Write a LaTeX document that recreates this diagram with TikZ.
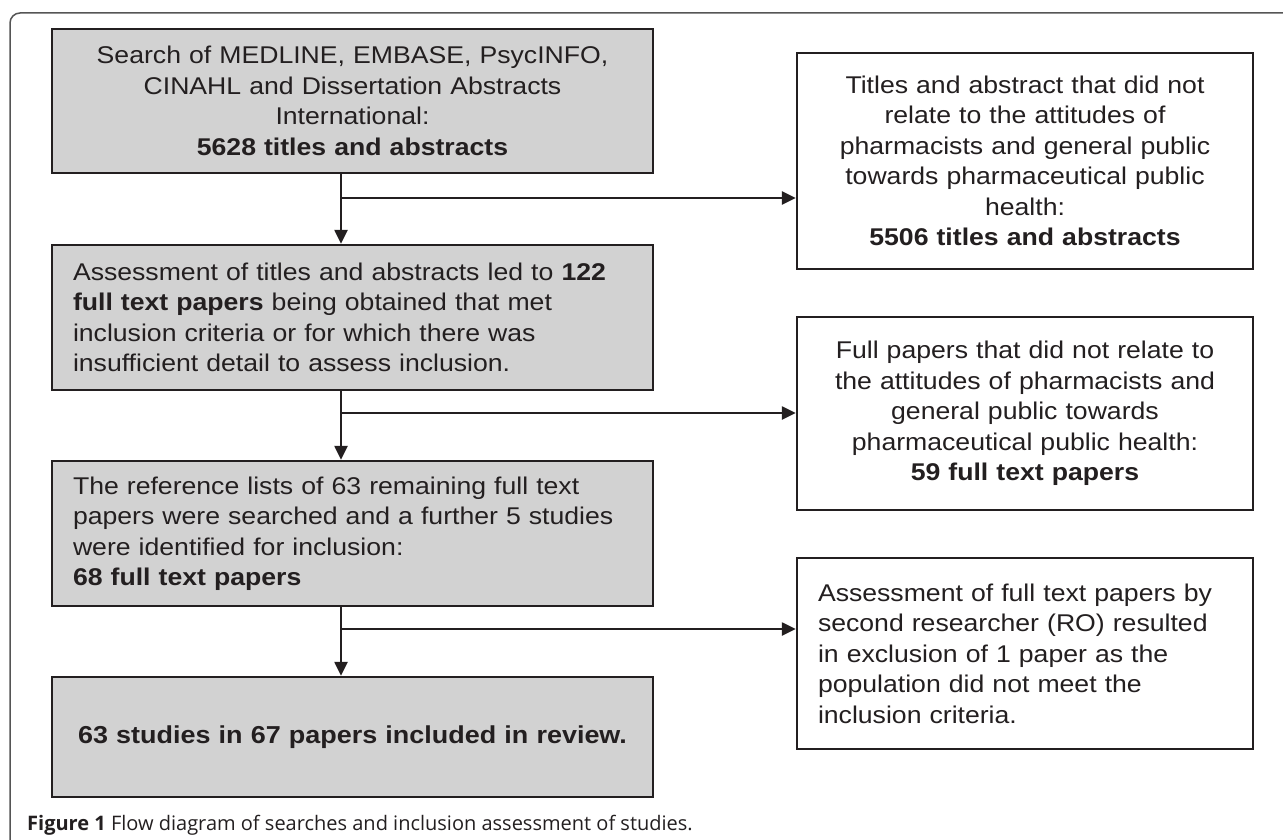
\documentclass[tikz,border=0pt]{standalone}
\usepackage{fontspec}
\setmainfont[FakeStretch=1.1]{Liberation Sans}
\setsansfont{Open Sans}
\usetikzlibrary{arrows.meta}
\definecolor{FlowFill}{HTML}{D2D2D2}
\definecolor{FlowLine}{HTML}{231F20}
\definecolor{FrameLine}{HTML}{555555}

\begin{document}
\begin{tikzpicture}[
    x=1pt, y=-1pt,
    box/.style={rectangle, draw=FlowLine, line width=2.4pt, inner xsep=21pt, inner ysep=0pt,
        text=FlowLine, font=\fontsize{24.2}{30.5}\selectfont},
    greybox/.style={box, fill=FlowFill, minimum width=601pt, text width=559pt},
    whitebox/.style={box, fill=white, minimum width=456pt, text width=414pt},
    flow/.style={draw=FlowLine, line width=2.4pt, -{Triangle[length=14pt,width=13pt]}}
 ]
\def\spineX{341}
\useasboundingbox (0,0) rectangle (1283,840);

% outer frame
\draw[FrameLine, line width=1.5pt, rounded corners=10pt] (10,840) -- (10,13) -- (1283,13);

% main column
\node[greybox, align=center, minimum height=144pt] (search) at (352.5,101)
    {Search of MEDLINE, EMBASE, PsycINFO,\\ CINAHL and Dissertation Abstracts\\ International:\\ \textbf{5628 titles and abstracts}};
\node[greybox, align=left, minimum height=145pt] (assess) at (352.5,317.5)
    {Assessment of titles and abstracts led to \textbf{122}\\ \textbf{full text papers} being obtained that met\\ inclusion criteria or for which there was\\ insufficient detail to assess inclusion.};
\node[greybox, align=left, minimum height=145pt] (reflist) at (352.5,533.5)
    {The reference lists of 63 remaining full text\\ papers were searched and a further 5 studies\\ were identified for inclusion:\\ \textbf{68 full text papers}};
\node[greybox, align=center, minimum height=120pt, inner xsep=4pt, text width=593pt,
      font=\fontsize{24.5}{30}\selectfont\bfseries] (review) at (352.5,737)
    {63 studies in 67 papers included in review.};

% exclusions
\node[whitebox, align=center, minimum height=216pt] (exTitles) at (1025,161)
    {Titles and abstract that did not\\ relate to the attitudes of\\ pharmacists and general public\\ towards pharmaceutical public\\ health:\\ \textbf{5506 titles and abstracts}\\[6pt]};
\node[whitebox, align=center, minimum height=193pt] (exPapers) at (1025,413.5)
    {Full papers that did not relate to\\ the attitudes of pharmacists and\\ general public towards\\ pharmaceutical public health:\\ \textbf{59 full text papers}\\[12pt]};
\node[whitebox, align=left, minimum height=191pt] (exSecond) at (1025,653.5)
    {Assessment of full text papers by\\ second researcher (RO) resulted\\ in exclusion of 1 paper as the\\ population did not meet the\\ inclusion criteria.\\[10pt]};

% connectors
\coordinate (spine) at (\spineX,0);
\coordinate (j1) at (\spineX,198);
\coordinate (j2) at (\spineX,413);
\coordinate (j3) at (\spineX,629);
\draw[flow] (search.south -| spine) -- (assess.north -| spine);
\draw[flow] (assess.south -| spine) -- (reflist.north -| spine);
\draw[flow] (reflist.south -| spine) -- (review.north -| spine);
\draw[flow] (j1) -- (j1 -| exTitles.west);
\draw[flow] (j2) -- (j2 -| exPapers.west);
\draw[flow] (j3) -- (j3 -| exSecond.west);

\node[anchor=base west, inner sep=0pt, text=FlowLine, font=\sffamily\fontsize{20}{24}\selectfont] (caption) at (27,830)
    {\textbf{Figure 1} Flow diagram of searches and inclusion assessment of studies.};

\end{tikzpicture}
\end{document}
